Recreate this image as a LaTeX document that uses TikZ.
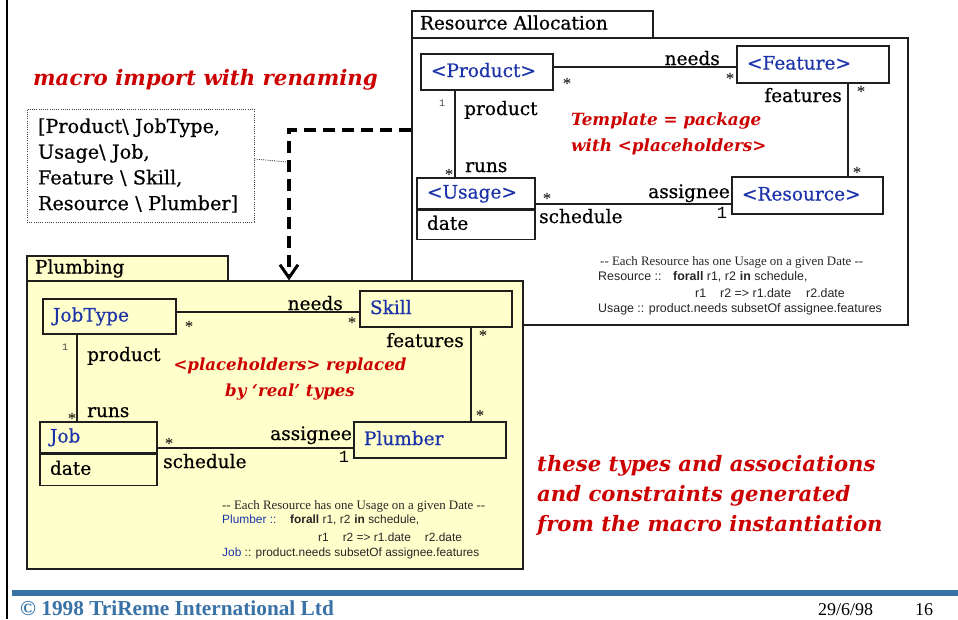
\documentclass[tikz,border=0pt]{standalone}
\usepackage{fontspec}
\setmainfont{DejaVu Serif}
\newfontfamily\lblfam[FakeBold=0.6]{DejaVu Serif}
\newfontfamily\tnrfam{Liberation Serif}
\newfontfamily\arialfam{Liberation Sans}
\newfontfamily\monofam{Liberation Mono}
\usetikzlibrary{arrows.meta}
\definecolor{clsblue}{RGB}{28,52,168}
\definecolor{myred}{RGB}{204,0,0}
\definecolor{plumfill}{RGB}{255,255,204}
\definecolor{footblue}{RGB}{56,114,166}
\definecolor{edgecol}{RGB}{30,30,30}
\newcommand\lblsize{\lblfam\fontsize{18.5}{22}\selectfont}
\newcommand\astsize{\tnrfam\fontsize{17}{20}\selectfont}
\begin{document}
\begin{tikzpicture}[x=1pt,y=-1pt,
  box/.style={draw=edgecol, line width=1.3pt, inner ysep=0pt, align=left},
  pkgtab/.style={box, inner xsep=8pt, font=\lblsize, text height=13pt, text depth=3pt},
  cls/.style={box, inner xsep=10pt, font=\lblsize, text=clsblue, text height=13pt, text depth=3pt},
  attr/.style={box, inner xsep=10pt, font=\lblsize, text=black, text height=13pt, text depth=3pt},
  assoc/.style={draw=edgecol, line width=1.3pt},
  lbl/.style={inner sep=0pt, font=\lblsize},
  ast/.style={inner sep=0pt, font=\astsize, yshift=-2.7pt},
  smallone/.style={inner sep=0pt, font=\monofam\fontsize{10}{12}\selectfont, text=black!70},
  bigone/.style={inner sep=0pt, font=\monofam\fontsize{17}{20}\selectfont},
  redlbl/.style={inner sep=0pt, text=myred, font=\bfseries\itshape\fontsize{#1}{#1}\selectfont},
  cserif/.style={inner sep=0pt, anchor=base west, font=\tnrfam\fontsize{12.9}{15}\selectfont, text=black!85},
  csans/.style={inner sep=0pt, anchor=base west, font=\arialfam\fontsize{#1}{14}\selectfont, text=black!85},
  dasharrow/.style={line width=3.5pt, dash pattern=on 12pt off 7pt,
     -{Straight Barb[length=13pt,width=18pt,line width=3pt]}},
  dotbox/.style={draw=black!75, line width=0.8pt, dash pattern=on 1pt off 1.2pt},
]
\useasboundingbox (0,0) rectangle (958,619);
\fill[white] (0,0) rectangle (958,619);

% ---------------- Resource Allocation package ----------------
\node[box, fill=white, minimum width=496pt, minimum height=287pt] (resbody) at (660,181.5) {};
\node[pkgtab, fill=white, minimum width=241pt, minimum height=27pt, text width=225pt] (restab) at (532.5,24.5) {Resource Allocation};

\node[cls, minimum width=132pt, minimum height=36pt, text width=112pt] (product) at (487,72) {<Product>};
\node[cls, minimum width=152pt, minimum height=37pt, text width=132pt] (feature) at (813,64.5) {<Feature>};
\node[cls, minimum width=118pt, minimum height=31pt, text width=98pt] (usage) at (476,193.5) {<Usage>};
\node[attr, minimum width=118pt, minimum height=29pt, text width=98pt, anchor=north] (usagedate) at (usage.south) {date};
\node[cls, minimum width=151pt, minimum height=37pt, text width=131pt] (resource) at (807.5,195.5) {<Resource>};

\path ([yshift=5pt]product.east) coordinate (rneeds);
\draw[assoc] (rneeds) -- (rneeds -| feature.west);
\path ([xshift=-32pt]product.south) coordinate (rprod);
\draw[assoc] (rprod) -- (rprod |- usage.north);
\path ([yshift=-10.5pt]usage.east) coordinate (rsched);
\draw[assoc] (rsched) -- (rsched -| resource.west);
\path ([xshift=35pt]feature.south) coordinate (rfeat);
\draw[assoc] (rfeat) -- (rfeat |- resource.north);

\node[lbl, anchor=base east] (rl1) at (720,65) {needs};
\node[ast] (ra1) at (567,81) {*};
\node[ast] (ra2) at (730,76) {*};
\node[smallone] (ro1) at (442,103) {1};
\node[lbl, anchor=base west] (rl2) at (464,115) {product};
\node[lbl, anchor=base west] (rl3) at (465,172) {runs};
\node[ast] (ra3) at (449,172) {*};
\node[ast] (ra4) at (547,196) {*};
\node[lbl, anchor=base west] (rl4) at (539,223) {schedule};
\node[lbl, anchor=base east] (rl5) at (730,198) {assignee};
\node[bigone] (ro2) at (722,213) {1};
\node[lbl, anchor=base east] (rl6) at (842,102) {features};
\node[ast] (ra5) at (861,89) {*};
\node[ast] (ra6) at (857,170) {*};

\node[redlbl=16.8, anchor=base west] (rt1) at (571,125) {Template = package};
\node[redlbl=16.8, anchor=base west] (rt2) at (571,151) {with <placeholders>};

\node[cserif] (rc1) at (600,265.5) {-- Each Resource has one Usage on a given Date --};
\node[csans=12.4] (rc2) at (598,280.5) {Resource ::};
\node[csans=12.4] (rc3) at (673,280.5) {\textbf{forall} r1, r2\hspace{4pt}\textbf{in} schedule,};
\node[csans=12.4] (rc4) at (695,297.5) {r1\hspace{14pt}r2 => r1.date\hspace{15pt}r2.date};
\node[csans=12.4] (rc5) at (598,312.5) {Usage :: product.needs subsetOf assignee.features};

% ---------------- Plumbing package ----------------
\node[box, fill=plumfill, minimum width=496pt, minimum height=288pt] (plumbody) at (275,425) {};
\node[pkgtab, fill=plumfill, minimum width=201pt, minimum height=25pt, text width=185pt] (plumtab) at (127.5,268.5) {Plumbing};

\node[cls, minimum width=133pt, minimum height=35pt, text width=113pt] (jobtype) at (109.5,316.5) {JobType};
\node[cls, minimum width=152pt, minimum height=36pt, text width=132pt] (skill) at (436,309) {Skill};
\node[cls, minimum width=117pt, minimum height=31pt, text width=97pt] (job) at (98.5,437.5) {Job};
\node[attr, minimum width=117pt, minimum height=31pt, text width=97pt, anchor=north] (jobdate) at (job.south) {date};
\node[cls, minimum width=152pt, minimum height=36pt, text width=132pt] (plumber) at (430,440) {Plumber};

\path ([yshift=4.5pt]jobtype.east) coordinate (pneeds);
\draw[assoc] (pneeds) -- (pneeds -| skill.west);
\path ([xshift=-32.5pt]jobtype.south) coordinate (pprod);
\draw[assoc] (pprod) -- (pprod |- job.north);
\path ([yshift=-10.5pt]job.east) coordinate (psched);
\draw[assoc] (psched) -- (psched -| plumber.west);
\path ([xshift=35pt]skill.south) coordinate (pfeat);
\draw[assoc] (pfeat) -- (pfeat |- plumber.north);

\node[lbl, anchor=base east] (pl1) at (343,310) {needs};
\node[ast] (pa1) at (189,324) {*};
\node[ast] (pa2) at (352,320) {*};
\node[smallone] (po1) at (65,347) {1};
\node[lbl, anchor=base west] (pl2) at (87,361) {product};
\node[lbl, anchor=base west] (pl3) at (87,417) {runs};
\node[ast] (pa3) at (72,416) {*};
\node[ast] (pa4) at (169,441) {*};
\node[lbl, anchor=base west] (pl4) at (163,468) {schedule};
\node[lbl, anchor=base east] (pl5) at (352,440) {assignee};
\node[bigone] (po2) at (344,457) {1};
\node[lbl, anchor=base east] (pl6) at (464,347) {features};
\node[ast] (pa5) at (483,333) {*};
\node[ast] (pa6) at (480,413) {*};

\node[redlbl=16.6, anchor=base] (pt1) at (290,370) {<placeholders> replaced};
\node[redlbl=16.6, anchor=base] (pt2) at (290,396) {by ‘real’ types};

\node[cserif] (pc1) at (222,509) {-- Each Resource has one Usage on a given Date --};
\node[csans=11.9, text=clsblue] (pc2) at (222,523) {Plumber ::};
\node[csans=11.9] (pc3) at (290,523) {\textbf{forall} r1, r2\hspace{4pt}\textbf{in} schedule,};
\node[csans=11.9] (pc4) at (318,541) {r1\hspace{14pt}r2 => r1.date\hspace{14pt}r2.date};
\node[csans=11.9] (pc5) at (222,556) {\textcolor{clsblue}{Job} :: product.needs subsetOf assignee.features};

% ---------------- renaming ----------------
\node[redlbl=21.3, anchor=base west] (macro) at (33,85) {macro import with renaming};
\node[dotbox, minimum width=227pt, minimum height=113pt, text width=205pt, inner xsep=11pt, inner ysep=0pt, align=left,
  font=\lblfam\fontsize{19.2}{25.7}\selectfont] (renbox) at (140.5,165.5)
  {[Product\textbackslash{} JobType,\\ Usage\textbackslash{} Job,\\ Feature \textbackslash{} Skill,\\ Resource \textbackslash{} Plumber]};

\coordinate (ylev) at (0,130);
\coordinate (xlev) at (289,0);
\draw[dasharrow] (resbody.west |- ylev) -| (plumbody.north -| xlev);
\coordinate (dotend) at (287,162);
\draw[dotbox] ([yshift=6.5pt]renbox.east) -- (dotend);

% ---------------- generated note ----------------
\node[redlbl=21.2, anchor=base west] (gen1) at (537,471) {these types and associations};
\node[redlbl=21.2, anchor=base west] (gen2) at (537,501) {and constraints generated};
\node[redlbl=21.2, anchor=base west] (gen3) at (537,531) {from the macro instantiation};

% ---------------- footer ----------------
\draw[line width=2pt, black] (7,0) -- (7,619);
\fill[footblue] (12,590) rectangle (958,596);
\node[inner sep=0pt, anchor=base west, text=footblue, font=\tnrfam\bfseries\fontsize{21.3}{24}\selectfont] (copy) at (20,615) {© 1998 TriReme International Ltd};
\node[inner sep=0pt, anchor=base west, font=\tnrfam\fontsize{18}{20}\selectfont] (date) at (818,615) {29/6/98};
\node[inner sep=0pt, anchor=base west, font=\tnrfam\fontsize{18}{20}\selectfont] (page) at (915,615) {16};
\end{tikzpicture}
\end{document}
